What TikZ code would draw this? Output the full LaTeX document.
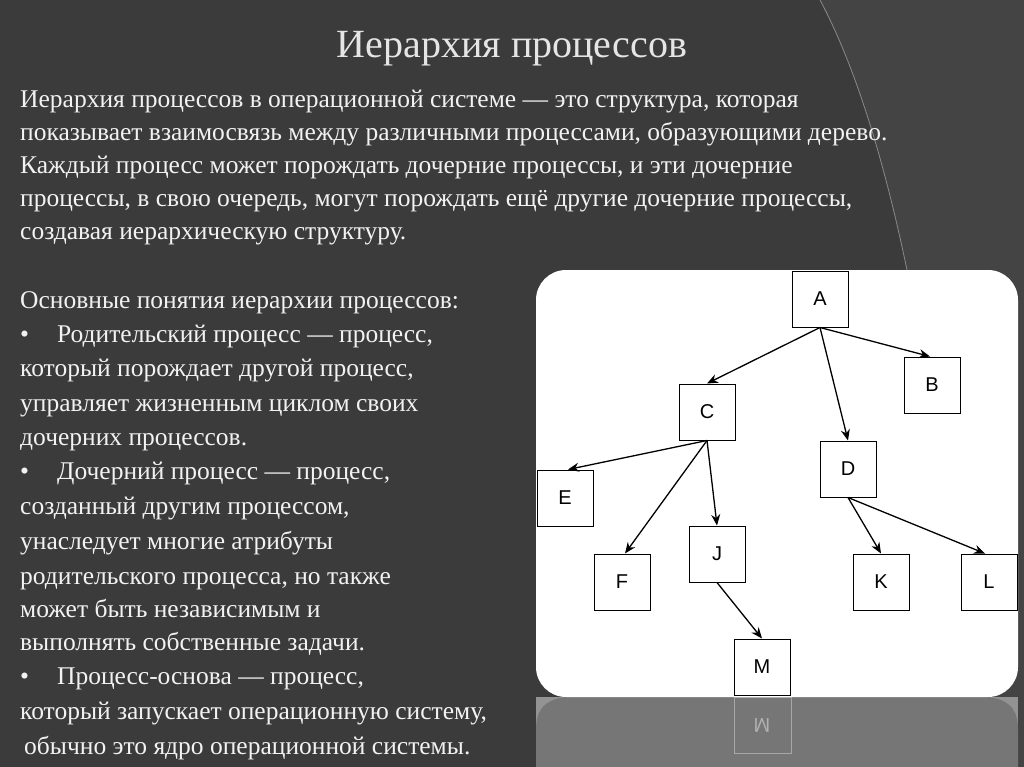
\documentclass[tikz,border=0pt]{standalone}
\usepackage{fontspec}
\setmainfont{Liberation Serif}
\newfontfamily\boxfont{Liberation Sans}
\usetikzlibrary{arrows.meta}
\definecolor{bgc}{HTML}{3B3B3B}
\definecolor{bgr}{HTML}{444444}
\definecolor{txt}{HTML}{F2F2F2}
\tikzset{
  ln/.style={anchor=base west, text=txt, inner sep=0pt, font=\fontsize{25.5}{30}\selectfont},
  pbox/.style={draw=black, fill=white, minimum width=56pt, minimum height=56pt, inner sep=0pt, line width=1pt, font=\boxfont\fontsize{20}{24}\selectfont},
  arr/.style={-{Stealth[length=11pt,width=9pt]}, line width=1.3pt}
}
\begin{document}
\begin{tikzpicture}[x=1pt,y=-1pt]
\useasboundingbox (0,0) rectangle (1024,767);
\fill[bgc] (0,0) rectangle (1024,767);
\fill[bgr] (820,0) .. controls (900,150) and (950,450) .. (965,767) -- (1024,767) -- (1024,0) -- cycle;
\draw[white!40!bgc, line width=0.8pt] (820,0) .. controls (900,150) and (950,450) .. (965,767);
\node[anchor=base, text=white!90!black, font=\fontsize{40}{46}\selectfont, inner sep=0pt] (title) at (512,58) {Иерархия процессов};
% body text
\node[ln] (l1) at (20,108) {Иерархия процессов в операционной системе — это структура, которая};
\node[ln] (l2) at (20,141) {показывает взаимосвязь между различными процессами, образующими дерево.};
\node[ln] (l3) at (20,174) {Каждый процесс может порождать дочерние процессы, и эти дочерние};
\node[ln] (l4) at (20,207) {процессы, в свою очередь, могут порождать ещё другие дочерние процессы,};
\node[ln] (l5) at (20,240) {создавая иерархическую структуру.};
\node[ln] (m1) at (20,308) {Основные понятия иерархии процессов:};
\node[ln] (m2) at (20,342) {•\hspace{28pt}Родительский процесс — процесс,};
\node[ln] (m3) at (20,376) {который порождает другой процесс,};
\node[ln] (m4) at (20,411) {управляет жизненным циклом своих};
\node[ln] (m5) at (20,445) {дочерних процессов.};
\node[ln] (m6) at (20,479) {•\hspace{28pt}Дочерний процесс — процесс,};
\node[ln] (m7) at (20,514) {созданный другим процессом,};
\node[ln] (m8) at (20,549) {унаследует многие атрибуты};
\node[ln] (m9) at (20,584) {родительского процесса, но также};
\node[ln] (m10) at (20,617) {может быть независимым и};
\node[ln] (m11) at (20,650) {выполнять собственные задачи.};
\node[ln] (m12) at (20,684) {•\hspace{28pt}Процесс-основа — процесс,};
% reflection
\begin{scope}
\fill[white!45!bgc] (536,697) rectangle (1018,767);
\fill[white!30!bgc] (566,697) .. controls (540,700) and (536,715) .. (536,730) -- (536,767) -- (1018,767) -- (1018,730) .. controls (1018,715) and (1014,700) .. (988,697) -- cycle;
\draw[white!55!bgc, line width=1pt] (734,697) rectangle (791,753);
\node[text=white!60!bgc, font=\boxfont\fontsize{20}{24}\selectfont, yscale=-1] (mr) at (762,725) {M};
\end{scope}
\node[ln] (m13) at (20,719) {который запускает операционную систему,};
\node[ln] (m14) at (24,754) {обычно это ядро операционной системы.};
% panel
\fill[white] (536,270) [rounded corners=30pt] rectangle (1018,697);
\node[pbox] (A) at (820,299) {A};
\node[pbox] (B) at (932,385) {B};
\node[pbox] (C) at (707,412) {C};
\node[pbox] (D) at (848,469) {D};
\node[pbox] (E) at (565,498) {E};
\node[pbox] (F) at (622,582) {F};
\node[pbox] (J) at (717,554) {J};
\node[pbox] (K) at (881,582) {K};
\node[pbox] (L) at (989,582) {L};
\node[pbox] (M) at (762,667) {M};
\draw[arr] (A.south) -- (C.north);
\draw[arr] (A.south) -- ([xshift=-2pt]B.north);
\draw[arr] (A.south) -- (D.north);
\draw[arr] (C.south) -- ([xshift=3pt]E.north);
\draw[arr] (C.south) -- ([xshift=3pt]F.north);
\draw[arr] (C.south) -- (J.north);
\draw[arr] (D.south) -- (K.north);
\draw[arr] (D.south) -- ([xshift=-4pt]L.north);
\draw[arr] (J.south) -- (M.north);
\end{tikzpicture}
\end{document}
